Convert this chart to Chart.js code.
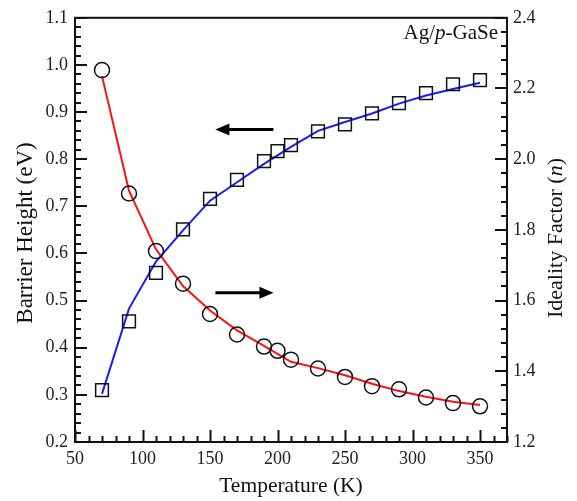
<!DOCTYPE html>
<html>
<head>
<meta charset="utf-8">
<script src="https://cdn.jsdelivr.net/npm/chart.js@4/dist/chart.umd.min.js"></script>
<style>
  body { margin: 0; background: #fff; }
  #wrap { width: 577px; height: 501px; }
</style>
</head>
<body>
<div id="wrap"><canvas id="barrierChart" width="577" height="501"></canvas></div>
<script>
// measured points
const temps = [70, 90, 110, 130, 150, 170, 190, 200, 210, 230, 250, 270, 290, 310, 330, 350];
const barrierHeight = [0.310, 0.456, 0.559, 0.651, 0.716, 0.756, 0.796, 0.817, 0.830, 0.859, 0.874, 0.897, 0.919, 0.940, 0.959, 0.968];
const idealityFactor = [2.252, 1.903, 1.740, 1.648, 1.562, 1.504, 1.470, 1.458, 1.433, 1.408, 1.384, 1.358, 1.349, 1.326, 1.310, 1.301];

// fitted curves
const fitTemps = [70, 90, 110, 130, 150, 170, 190, 210, 230, 250, 270, 290, 310, 330, 350];
const barrierFit = [0.302, 0.483, 0.583, 0.649, 0.712, 0.751, 0.790, 0.826, 0.860, 0.879, 0.897, 0.918, 0.935, 0.949, 0.962];
const idealityFit = [2.235, 1.911, 1.745, 1.641, 1.572, 1.516, 1.472, 1.427, 1.409, 1.389, 1.365, 1.344, 1.328, 1.314, 1.305];

// axis ticks
const xTicks = [50, 100, 150, 200, 250, 300, 350];
const leftTicks = [0.2, 0.3, 0.4, 0.5, 0.6, 0.7, 0.8, 0.9, 1.0, 1.1];
const rightTicks = [1.2, 1.4, 1.6, 1.8, 2.0, 2.2, 2.4];

const toPoints = (xs, ys) => xs.map((x, i) => ({ x: x, y: ys[i] }));
const serif = "'Liberation Serif', 'DejaVu Serif', serif";

// inward ticks, frame, arrows and labels
const decorPlugin = {
  id: "decor",
  afterDraw(chart) {
    const { ctx, chartArea: a, scales } = chart;
    const xs = scales.x, yl = scales.yL, yr = scales.yR;
    ctx.save();
    ctx.strokeStyle = "#111";
    ctx.lineWidth = 2;
    ctx.beginPath();
    // x ticks
    for (let v = 50; v <= 370; v += 10) {
      const px = Math.round(xs.getPixelForValue(v)) + 0.5;
      const len = v % 50 === 0 ? 12 : 6;
      ctx.moveTo(px, a.bottom); ctx.lineTo(px, a.bottom - len);
    }
    // left ticks
    for (let k = 0; k <= 45; k++) {
      const v = 0.2 + k * 0.02;
      const py = Math.round(yl.getPixelForValue(v));
      const len = k % 5 === 0 ? 12 : 6;
      ctx.moveTo(a.left, py); ctx.lineTo(a.left + len, py);
    }
    // right ticks
    for (let k = 0; k <= 30; k++) {
      const v = 1.2 + k * 0.04;
      const py = Math.round(yr.getPixelForValue(v));
      const len = k % 5 === 0 ? 12 : 6;
      ctx.moveTo(a.right, py); ctx.lineTo(a.right - len, py);
    }
    ctx.stroke();
    ctx.strokeRect(a.left, a.top, a.right - a.left, a.bottom - a.top);

    // arrows
    drawArrow(ctx, xs.getPixelForValue(197), yl.getPixelForValue(0.863), xs.getPixelForValue(154), yl.getPixelForValue(0.863));
    drawArrow(ctx, xs.getPixelForValue(154), yr.getPixelForValue(1.622), xs.getPixelForValue(197), yr.getPixelForValue(1.622));

    ctx.fillStyle = "#111";
    ctx.textBaseline = "alphabetic";
    // sample label
    drawRich(ctx, [["Ag/", false], ["p", true], ["-GaSe", false]], 0, 21, "right", a.right - 9, a.top + 21);
    // axis titles
    drawRich(ctx, [["Temperature (K)", false]], 0, 21.5, "center", (a.left + a.right) / 2, 492);
    drawRich(ctx, [["Barrier Height (eV)", false]], -Math.PI / 2, 23, "center", 32, 233);
    drawRich(ctx, [["Ideality Factor (", false], ["n", true], [")", false]], -Math.PI / 2, 22, "center", 562, 238);
    ctx.restore();
  }
};

function drawArrow(ctx, x1, y1, x2, y2) {
  const dir = Math.sign(x2 - x1);
  ctx.save();
  ctx.strokeStyle = "#000";
  ctx.fillStyle = "#000";
  ctx.lineWidth = 3;
  ctx.beginPath();
  ctx.moveTo(x1, y1); ctx.lineTo(x2 - dir * 10, y2);
  ctx.stroke();
  ctx.beginPath();
  ctx.moveTo(x2, y2);
  ctx.lineTo(x2 - dir * 14, y2 - 6);
  ctx.lineTo(x2 - dir * 14, y2 + 6);
  ctx.closePath();
  ctx.fill();
  ctx.restore();
}

function drawRich(ctx, parts, rot, size, align, x, y) {
  ctx.save();
  ctx.translate(x, y);
  ctx.rotate(rot);
  const fonts = parts.map(p => (p[1] ? "italic " : "") + size + "px " + serif);
  let total = 0;
  parts.forEach((p, i) => { ctx.font = fonts[i]; total += ctx.measureText(p[0]).width; });
  let cx = align === "center" ? -total / 2 : align === "right" ? -total : 0;
  ctx.textAlign = "left";
  parts.forEach((p, i) => {
    ctx.font = fonts[i];
    ctx.fillText(p[0], cx, 0);
    cx += ctx.measureText(p[0]).width;
  });
  ctx.restore();
}

const tickFont = { family: serif, size: 18 };

new Chart(document.getElementById("barrierChart").getContext("2d"), {
  type: "scatter",
  data: {
    datasets: [
      {
        label: "Barrier height",
        data: toPoints(temps, barrierHeight),
        yAxisID: "yL",
        pointStyle: "rect",
        pointRadius: 9,
        pointBorderColor: "#111",
        pointBackgroundColor: "rgba(0,0,0,0)",
        pointBorderWidth: 1.5,
        showLine: false
      },
      {
        label: "Ideality factor",
        data: toPoints(temps, idealityFactor),
        yAxisID: "yR",
        pointStyle: "circle",
        pointRadius: 7.5,
        pointBorderColor: "#111",
        pointBackgroundColor: "rgba(0,0,0,0)",
        pointBorderWidth: 1.5,
        showLine: false
      },
      {
        label: "Barrier fit",
        data: toPoints(fitTemps, barrierFit),
        yAxisID: "yL",
        showLine: true,
        borderColor: "#1a1aff",
        borderWidth: 2,
        pointRadius: 0,
        tension: 0
      },
      {
        label: "Ideality fit",
        data: toPoints(fitTemps, idealityFit),
        yAxisID: "yR",
        showLine: true,
        borderColor: "#ff1010",
        borderWidth: 2,
        pointRadius: 0,
        tension: 0
      }
    ]
  },
  options: {
    responsive: false,
    animation: false,
    layout: { padding: { top: 11, left: 0, right: 0, bottom: 0 } },
    plugins: { legend: { display: false }, tooltip: { enabled: false } },
    scales: {
      x: {
        type: "linear",
        min: 50, max: 370,
        afterBuildTicks: s => { s.ticks = xTicks.map(v => ({ value: v })); },
        afterFit: s => { s.height = 59; },
        grid: { display: false, drawTicks: false },
        border: { display: false },
        ticks: { font: tickFont, color: "#222", padding: 6, maxRotation: 0 }
      },
      yL: {
        position: "left",
        min: 0.2, max: 1.1,
        afterBuildTicks: s => { s.ticks = leftTicks.map(v => ({ value: v })); },
        afterFit: s => { s.width = 75; },
        grid: { display: false, drawTicks: false },
        border: { display: false },
        ticks: { font: tickFont, color: "#222", padding: 7, callback: v => v.toFixed(1) }
      },
      yR: {
        position: "right",
        min: 1.2, max: 2.4,
        afterBuildTicks: s => { s.ticks = rightTicks.map(v => ({ value: v })); },
        afterFit: s => { s.width = 70; },
        grid: { display: false, drawTicks: false },
        border: { display: false },
        ticks: { font: tickFont, color: "#222", padding: 6, callback: v => v.toFixed(1) }
      }
    }
  },
  plugins: [decorPlugin]
});
</script>
</body>
</html>
